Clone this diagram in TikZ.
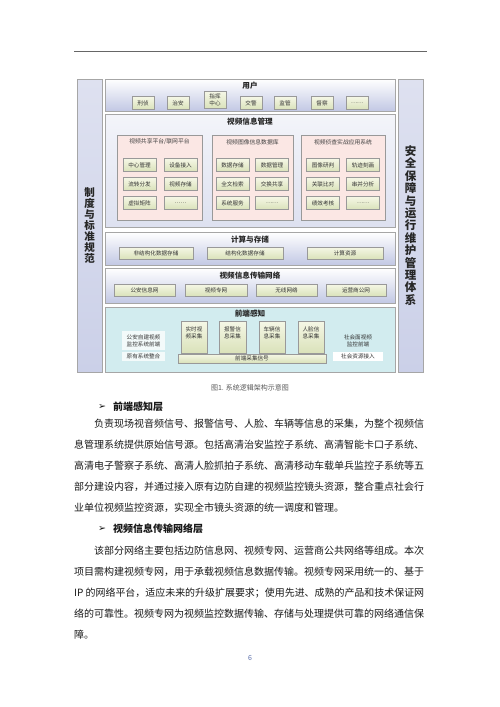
\documentclass[tikz,border=0pt]{standalone}
\usepackage{fontspec}
\setmainfont{Noto Sans CJK SC}
\newfontfamily\symfont{DejaVu Sans}
\usetikzlibrary{shadows}
\definecolor{lav}{RGB}{194,200,228}
\definecolor{lavmid}{RGB}{226,229,242}
\definecolor{sidetop}{RGB}{222,225,240}
\definecolor{sidebot}{RGB}{203,208,232}
\definecolor{pinkc}{RGB}{251,231,228}
\definecolor{itop}{RGB}{245,247,230}
\definecolor{ibot}{RGB}{218,226,186}
\definecolor{cyanbg}{RGB}{210,236,239}
\definecolor{bodytxt}{RGB}{25,25,25}
\definecolor{pgblue}{RGB}{90,110,170}
\newcommand\mybox[7]{%
  \pgfmathsetmacro\bxw{#4-#2}\pgfmathsetmacro\bxh{#5-#3}%
  \pgfmathsetmacro\bxcx{(#2+#4)/2}\pgfmathsetmacro\bxcy{(#3+#5)/2}%
  \node[#6, minimum width=\bxw pt, minimum height=\bxh pt, inner sep=0pt] (#1) at (\bxcx,\bxcy) {#7};}
\begin{document}
\begin{tikzpicture}[x=1pt,y=-1pt,
  lay/.style={draw=black!35, line width=0.7pt, top color=white, bottom color=lav},
  laymid/.style={draw=black!35, line width=0.7pt, top color=white!60!lavmid, bottom color=lavmid!85!lav},
  side/.style={draw=black!35, line width=0.7pt, top color=sidetop, bottom color=sidebot},
  front/.style={draw=black!35, line width=0.7pt, fill=cyanbg},
  pinkbox/.style={draw=black!40, line width=0.5pt, fill=pinkc},
  itm/.style={draw=black!40, line width=0.45pt, top color=itop, bottom color=ibot,
    font=\fontsize{5.6}{6.6}\selectfont, text=black!80, align=center,
    drop shadow={opacity=0.25,shadow xshift=0.6pt,shadow yshift=-0.6pt}},
  ttl/.style={font=\fontsize{7.6}{8}\selectfont\bfseries, text=black!85, inner sep=0pt},
  sttl/.style={font=\fontsize{5.8}{6}\selectfont, text=black!75, inner sep=0pt},
  ftxt/.style={font=\fontsize{5.6}{7.2}\selectfont, text=black!80, align=center, inner sep=0pt},
  wbox/.style={draw=none, fill=white, fill opacity=0.75, text opacity=1},
  body/.style={font=\fontsize{10}{12}\selectfont, text=bodytxt, anchor=west, inner sep=0pt},
  head/.style={font=\fontsize{10}{12}\selectfont\bfseries, text=bodytxt, anchor=west, inner sep=0pt},
  bullet/.style={font=\symfont\fontsize{9.5}{10}\selectfont, text=bodytxt, inner sep=0pt},
  vtxt/.style={font=\fontsize{11}{11.2}\selectfont\bfseries, text=black!85, align=center, inner sep=0pt},
]
\useasboundingbox[fill=white] (0,0) rectangle (500,707);

% header rule
\coordinate (hl1) at (74,51);
\coordinate (hl2) at (427,51);
\draw[black!60, line width=0.9pt] (hl1) -- (hl2);

% side columns
\mybox{leftcol}{77}{79}{102}{372}{side}{}
\mybox{rightcol}{398}{79}{423}{372}{side}{}
\node[vtxt, font=\fontsize{10.5}{10.9}\selectfont\bfseries] (lefttxt) at (89.5,225.5) {制\\度\\与\\标\\准\\规\\范};
\node[vtxt, font=\fontsize{11.5}{12.4}\selectfont\bfseries] (righttxt) at (410.5,225.5) {安\\全\\保\\障\\与\\运\\行\\维\\护\\管\\理\\体\\系};

% users layer
\mybox{users}{105}{79}{395}{111}{lay}{}
\node[ttl] (usersT) at (250,86) {用户};
\foreach \n/\x/\t in {u1/143/刑侦,u2/178/治安,u4/251/交警,u5/285/监管,u6/322/督察,u7/357/……}{
  \node[itm, minimum width=22pt, minimum height=13pt, inner sep=0pt] (\n) at (\x,103) {\t};
}
\node[itm, minimum width=22pt, minimum height=17pt, inner sep=0pt] (u3) at (215,100) {指挥\\中心};

% video info management
\mybox{vim}{105}{114}{395}{227}{laymid}{}
\node[ttl] (vimT) at (250,122) {视频信息管理};
\mybox{s1}{117}{135}{202}{220}{pinkbox}{}
\mybox{s2}{212}{135}{293}{220}{pinkbox}{}
\mybox{s3}{301}{135}{385}{220}{pinkbox}{}
\node[sttl] (s1T) at (159.5,142) {视频共享平台/联网平台};
\node[sttl] (s2T) at (252.5,142) {视频图像信息数据库};
\node[sttl] (s3T) at (343,142) {视频侦查实战应用系统};
\foreach \n/\x/\y/\t in {
  a1/139.5/165/中心管理, a2/180.5/165/设备接入,
  a3/139.5/184/流转分发, a4/180.5/184/视频存储,
  a5/139.5/203/虚拟矩阵, a6/180.5/203/……,
  b1/232.5/165/数据存储, b2/272/165/数据管理,
  b3/232.5/184/全文检索, b4/272/184/交换共享,
  b5/232.5/203/系统服务, b6/272/203/……,
  c1/323/165/图像研判, c2/363/165/轨迹刻画,
  c3/323/184/关联比对, c4/363/184/串并分析,
  c5/323/203/绩效考核, c6/363/203/……}{
  \node[itm, minimum width=33pt, minimum height=13pt, inner sep=0pt] (\n) at (\x,\y) {\t};
}

% computing and storage
\mybox{cs}{105}{232}{395}{265}{lay}{}
\node[ttl] (csT) at (250,239.5) {计算与存储};
\mybox{cs1}{119}{247}{193}{259}{itm}{非结构化数据存储}
\mybox{cs2}{207}{247}{283}{259}{itm}{结构化数据存储}
\mybox{cs3}{307}{247}{383}{259}{itm}{计算资源}

% transmission network
\mybox{tn}{105}{268}{395}{303}{lay}{}
\node[ttl] (tnT) at (250,275.5) {视频信息传输网络};
\mybox{tn1}{114}{284}{175}{296}{itm}{公安信息网}
\mybox{tn2}{185}{284}{247}{296}{itm}{视频专网}
\mybox{tn3}{256}{284}{317}{296}{itm}{无线网络}
\mybox{tn4}{326}{284}{386}{296}{itm}{运营商公网}

% front-end perception
\mybox{fe}{105}{307}{395}{372}{front}{}
\node[ttl] (feT) at (250,314) {前端感知};
\mybox{f1}{181}{321}{207}{353}{itm}{}
\mybox{f2}{219}{321}{246}{353}{itm}{}
\mybox{f3}{259}{321}{285}{353}{itm}{}
\mybox{f4}{298}{321}{324}{353}{itm}{}
\node[ftxt] (f1t) at (194,333) {实时视\\频采集};
\node[ftxt] (f2t) at (232.5,333) {报警信\\息采集};
\node[ftxt] (f3t) at (272,333) {车辆信\\息采集};
\node[ftxt] (f4t) at (311,333) {人脸信\\息采集};
\mybox{fbar}{178}{354}{326}{363}{itm}{前端采集信号}
\mybox{fl1}{122}{331}{165}{350}{wbox}{}
\node[ftxt] (fl1t) at (143.5,340.5) {公安自建视频\\监控系统前端};
\mybox{fl2}{122}{352}{165}{361}{wbox, font=\fontsize{5.6}{6.6}\selectfont, text=black!80}{原有系统整合}
\node[ftxt] (fr1t) at (358,340.5) {社会面视频\\监控前端};
\mybox{fr2}{333}{352}{383}{361}{wbox, fill opacity=1, font=\fontsize{5.6}{6.6}\selectfont, text=black!80}{社会资源接入}

% caption
\node[font=\fontsize{7}{8}\selectfont, text=black!65, inner sep=0pt] (cap) at (250,388) {图1. 系统逻辑架构示意图};

% body text
\node[bullet] (bul1) at (102,407) {➢};
\node[head] (h1) at (113,407) {前端感知层};
\node[body] (p1) at (94,424) {\resizebox{330pt}{\height}{负责现场视音频信号、报警信号、人脸、车辆等信息的采集，为整个视频信}};
\node[body] (p2) at (74,445) {\resizebox{350pt}{\height}{息管理系统提供原始信号源。包括高清治安监控子系统、高清智能卡口子系统、}};
\node[body] (p3) at (74,466) {\resizebox{350pt}{\height}{高清电子警察子系统、高清人脸抓拍子系统、高清移动车载单兵监控子系统等五}};
\node[body] (p4) at (74,487) {\resizebox{350pt}{\height}{部分建设内容，并通过接入原有边防自建的视频监控镜头资源，整合重点社会行}};
\node[body] (p5) at (74,508) {业单位视频监控资源，实现全市镜头资源的统一调度和管理。};
\node[bullet] (bul2) at (102,529) {➢};
\node[head] (h2) at (113,529) {视频信息传输网络层};
\node[body] (p6) at (94,551) {\resizebox{330pt}{\height}{该部分网络主要包括边防信息网、视频专网、运营商公共网络等组成。本次}};
\node[body] (p7) at (74,572) {\resizebox{350pt}{\height}{项目需构建视频专网，用于承载视频信息数据传输。视频专网采用统一的、基于}};
\node[body] (p8) at (74,593) {\resizebox{350pt}{\height}{IP 的网络平台，适应未来的升级扩展要求；使用先进、成熟的产品和技术保证网}};
\node[body] (p9) at (74,614) {\resizebox{350pt}{\height}{络的可靠性。视频专网为视频监控数据传输、存储与处理提供可靠的网络通信保}};
\node[body] (p10) at (74,635) {障。};

% page number
\node[font=\fontsize{7}{8}\selectfont, text=pgblue, inner sep=0pt] (pg) at (250,658) {6};
\end{tikzpicture}
\end{document}
